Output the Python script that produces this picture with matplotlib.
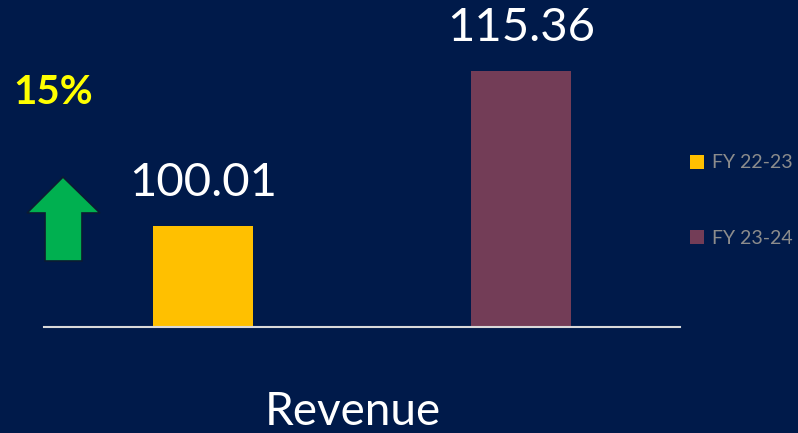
import matplotlib
matplotlib.use("Agg")
import matplotlib.pyplot as plt
from matplotlib.patches import Polygon

categories = ["Revenue"]
series_names = ["FY 22-23", "FY 23-24"]
values = [100.01, 115.36]
value_labels = ["100.01", "115.36"]
growth_label = "15%"
colors = ["#FFC000", "#733D57"]
bg = "#001A4A"

plt.rcParams['font.family'] = ['Lato', 'DejaVu Sans']

fig = plt.figure(figsize=(7.98, 4.33), dpi=100, facecolor=bg)
ax = fig.add_axes([44/798, 106/433, 636/798, 303/433])
ax.set_facecolor(bg)

offsets = [-0.25, 0.25]
width = 0.157
bars = []
for i, (v, off, c, name) in enumerate(zip(values, offsets, colors, series_names)):
    b = ax.bar(0 + off, v - 90, bottom=90, width=width, color=c, label=name)
    bars.append(b)
    ax.text(0 + off, v + 2.2, value_labels[i], ha='center', va='bottom',
            color='white', fontsize=34)

ax.set_xlim(-0.5, 0.5)
ax.set_ylim(90, 120)
for s in ['top', 'right', 'left']:
    ax.spines[s].set_visible(False)
ax.spines['bottom'].set_color('#D9D9D9')
ax.spines['bottom'].set_linewidth(1.5)
ax.set_yticks([])
ax.set_xticks([])

fig.text(353/798, 1 - 425/433, categories[0], fontsize=33, color='white',
         ha='center', va='baseline')

leg = fig.legend(handles=[b[0] for b in bars], labels=series_names,
                 loc='upper left', bbox_to_anchor=(672/798, 1 - 137/433),
                 frameon=False, fontsize=14, labelcolor='#8C8C8C',
                 handlelength=0.75, handleheight=0.75, handletextpad=0.4,
                 labelspacing=3.0)

fig.text(13/798, 1 - 104/433, growth_label, color='#FFFF00', fontsize=29,
         fontweight='bold', ha='left', va='baseline')

# up arrow decoration (figure pixel coords)
H = 433
pts = [(63, 177), (100, 213), (82, 213), (82, 261), (45, 261), (45, 213), (27, 213)]
arrow = Polygon([(x/798, 1 - y/H) for x, y in pts], closed=True,
                transform=fig.transFigure, facecolor='#00B050',
                edgecolor='#0B1A33', linewidth=1.2)
fig.patches.append(arrow)

fig.savefig("out.png", dpi=100, facecolor=bg)
